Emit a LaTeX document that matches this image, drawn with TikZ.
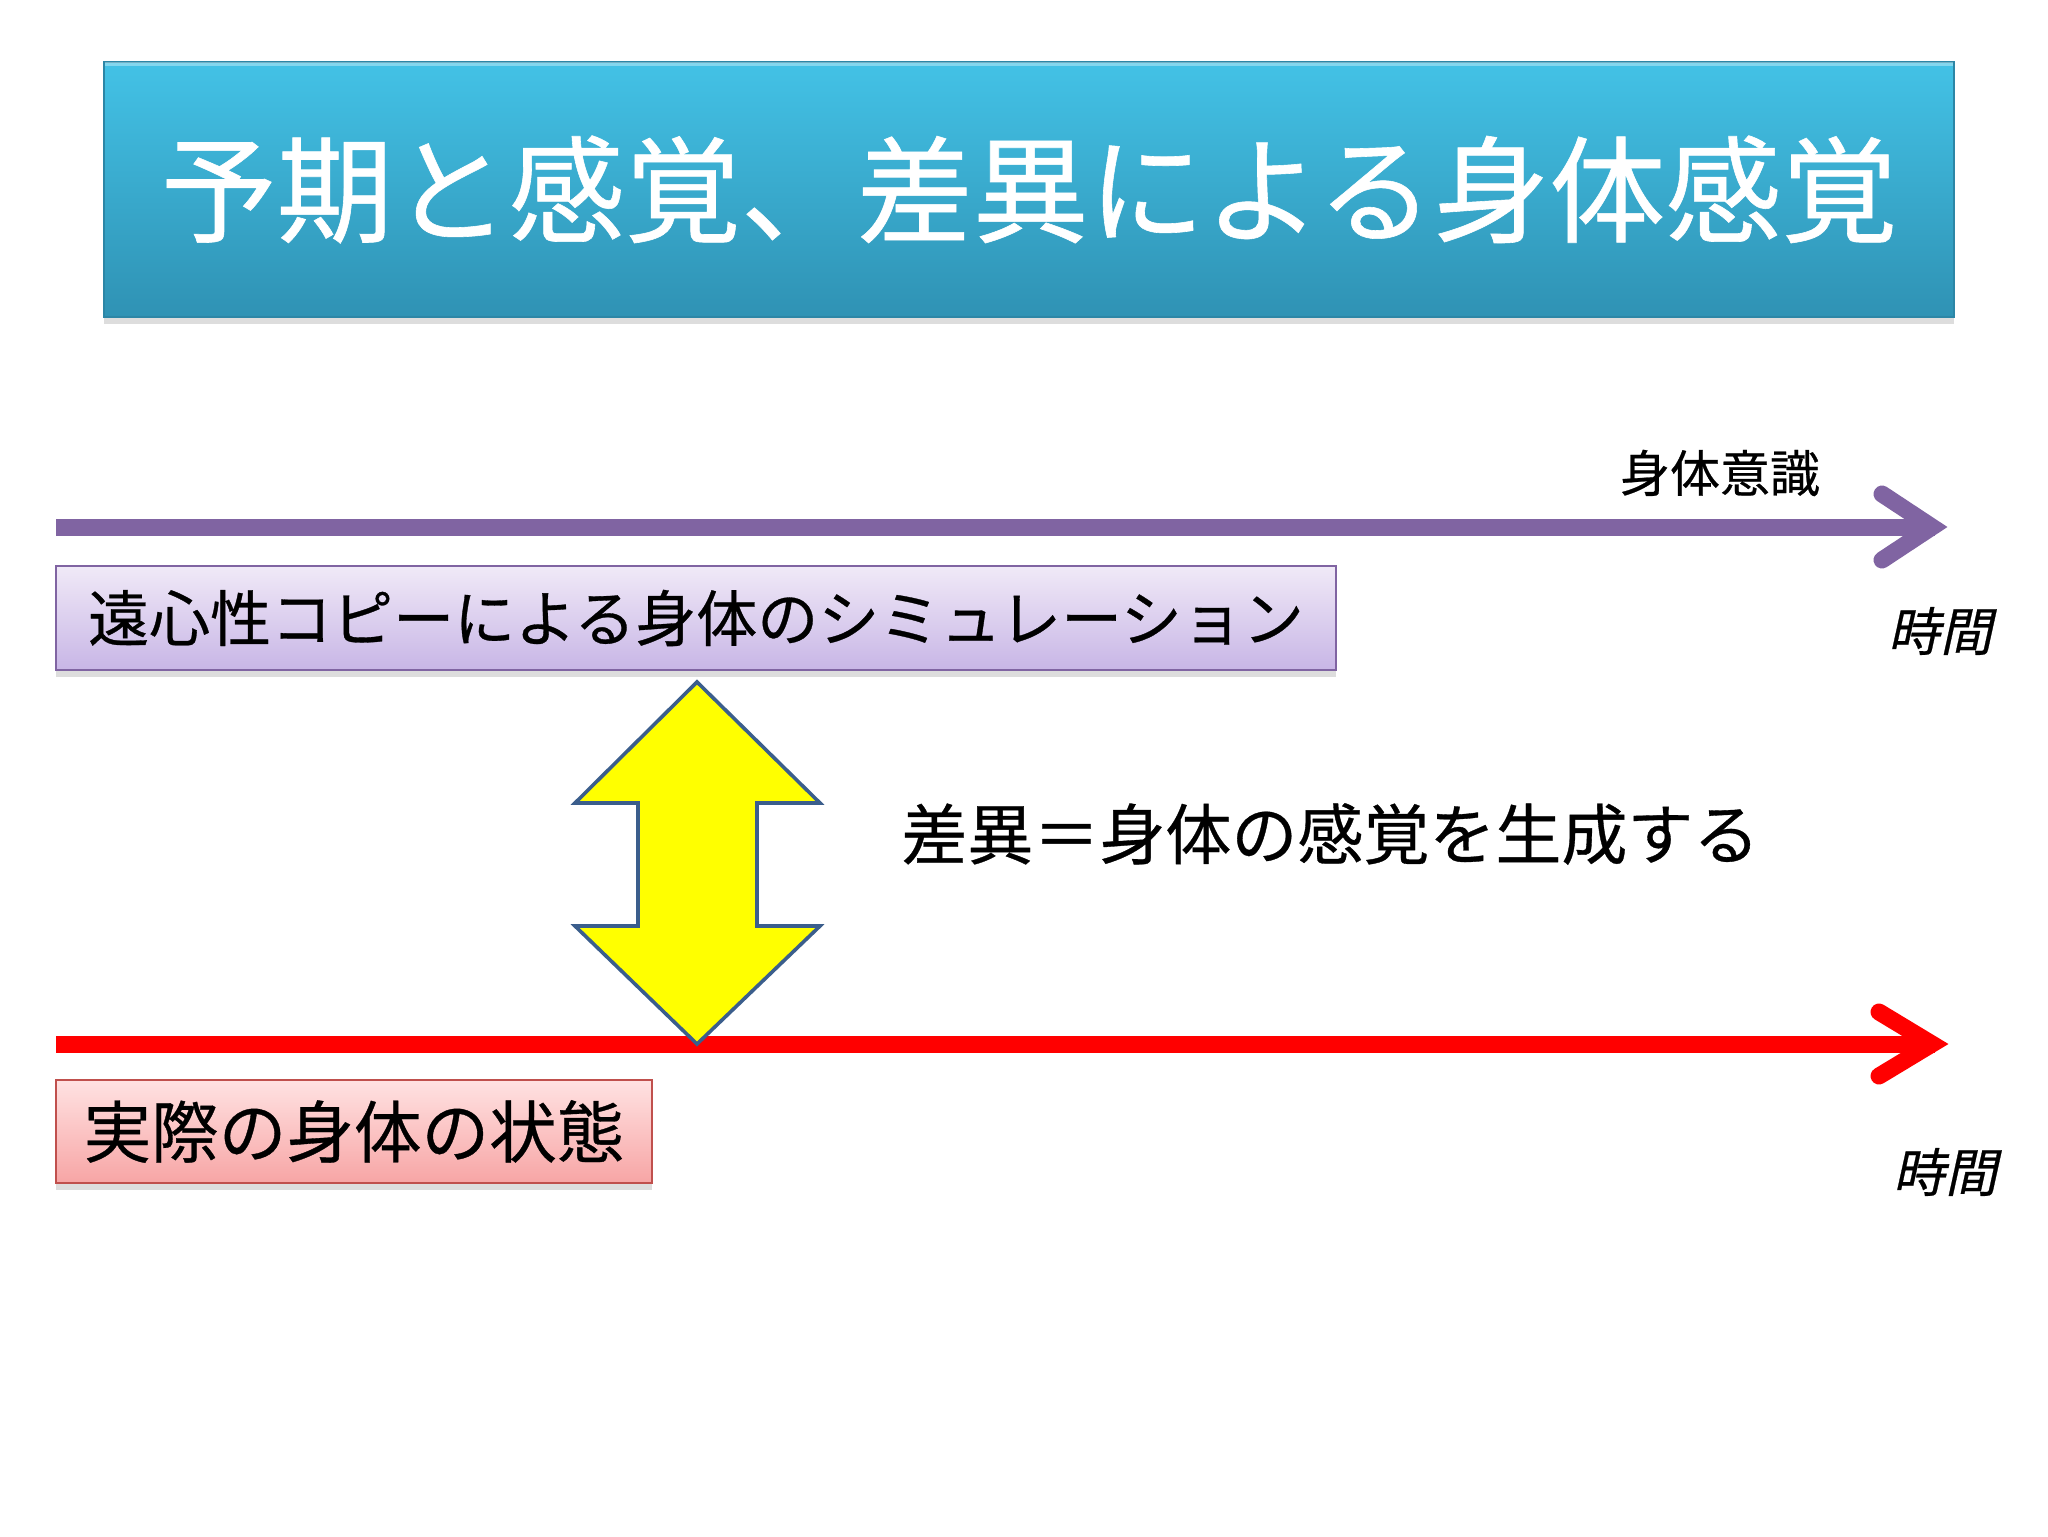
\documentclass[tikz,border=0pt]{standalone}
\usepackage{fontspec}
\setmainfont{Noto Sans CJK JP}[FakeBold=0.5]
\newfontfamily\jpit{Noto Sans CJK JP}[FakeSlant=0.22,FakeBold=0.5]
\usetikzlibrary{shadows}
\definecolor{titletop}{HTML}{43C2E6}
\definecolor{titlebot}{HTML}{2F92B4}
\definecolor{titleedge}{HTML}{2C86A6}
\definecolor{axispurple}{HTML}{8064A2}
\definecolor{lilactop}{HTML}{F0E9F7}
\definecolor{lilacbot}{HTML}{C8B6E6}
\definecolor{pinktop}{HTML}{FFE2E2}
\definecolor{pinkbot}{HTML}{F7A5A5}
\definecolor{pinkedge}{HTML}{C0504D}
\definecolor{arrowedge}{HTML}{3B5E8C}
\definecolor{pureyellow}{HTML}{FFFF00}
\tikzset{
  softshadow/.style={drop shadow={shadow xshift=0pt,shadow yshift=-3.5pt,opacity=.22,fill=black!60}},
  titlebox/.style={draw=titleedge,line width=0.8pt,top color=titletop,bottom color=titlebot,
    minimum width=925pt,minimum height=127.5pt,inner sep=0pt,text=white,
    font=\fontsize{58pt}{70pt}\selectfont,softshadow},
  lilacbox/.style={draw=axispurple,line width=0.8pt,top color=lilactop,bottom color=lilacbot,
    minimum width=640pt,minimum height=52pt,inner sep=0pt,
    font=\fontsize{30.5pt}{36pt}\selectfont,softshadow},
  pinkbox/.style={draw=pinkedge,line width=0.8pt,top color=pinktop,bottom color=pinkbot,
    minimum width=298pt,minimum height=51.5pt,inner sep=0pt,
    font=\fontsize{33.8pt}{40pt}\selectfont,softshadow},
  axisline/.style={line width=8.5pt},
  chevron/.style={line width=8.5pt,line cap=round,line join=miter},
  axislabel/.style={inner sep=0pt,font=\fontsize{25pt}{30pt}\selectfont},
  timelabel/.style={inner sep=0pt,font=\jpit\fontsize{26pt}{30pt}\selectfont},
  difflabel/.style={inner sep=0pt,anchor=west,font=\fontsize{33pt}{40pt}\selectfont},
  dblarrow/.style={fill=pureyellow,draw=arrowedge,line width=1.8pt,line join=miter},
}
\begin{document}
\begin{tikzpicture}[x=0.5pt,y=-0.5pt]
\useasboundingbox[fill=white] (0,0) rectangle (2048,1536);

% title
\node[titlebox] (title) at (1029,189.5) {予期と感覚、差異による身体感覚};
\draw[white,opacity=.35,line width=2pt] ([xshift=1pt,yshift=-1.5pt]title.north west) -- ([xshift=-1pt,yshift=-1.5pt]title.north east);

% purple axis (body simulation)
\coordinate (pstart) at (56,527);
\coordinate (pend) at (1935,527);
\coordinate (pa) at (1882,494);
\coordinate (ptip) at (1932,527);
\coordinate (pb) at (1882,560);
\draw[axisline,axispurple] (pstart) -- (pend);
\draw[chevron,axispurple] (pa) -- (ptip) -- (pb);
\node[axislabel] (bodyaware) at (1720,473) {身体意識};
\node[timelabel] (time1) at (1940,631) {時間};

% lilac box
\node[lilacbox] (sim) at (696,618) {遠心性コピーによる身体のシミュレーション};

% red axis (actual body)
\coordinate (rstart) at (56,1044);
\coordinate (rend) at (1935,1044);
\coordinate (ra) at (1879,1012);
\coordinate (rtip) at (1932,1044);
\coordinate (rb) at (1879,1076);
\draw[axisline,red] (rstart) -- (rend);
\draw[chevron,red] (ra) -- (rtip) -- (rb);
\node[timelabel] (time2) at (1945,1172) {時間};

% pink box
\node[pinkbox] (actual) at (354,1131.5) {実際の身体の状態};

% yellow double arrow
\draw[dblarrow] (697,682) -- (820,803) -- (757,803) -- (757,926) -- (820,926)
  -- (697,1044) -- (575,926) -- (638,926) -- (638,803) -- (575,803) -- cycle;

% difference label
\node[difflabel] (diff) at (901,834) {差異＝身体の感覚を生成する};
\end{tikzpicture}
\end{document}
